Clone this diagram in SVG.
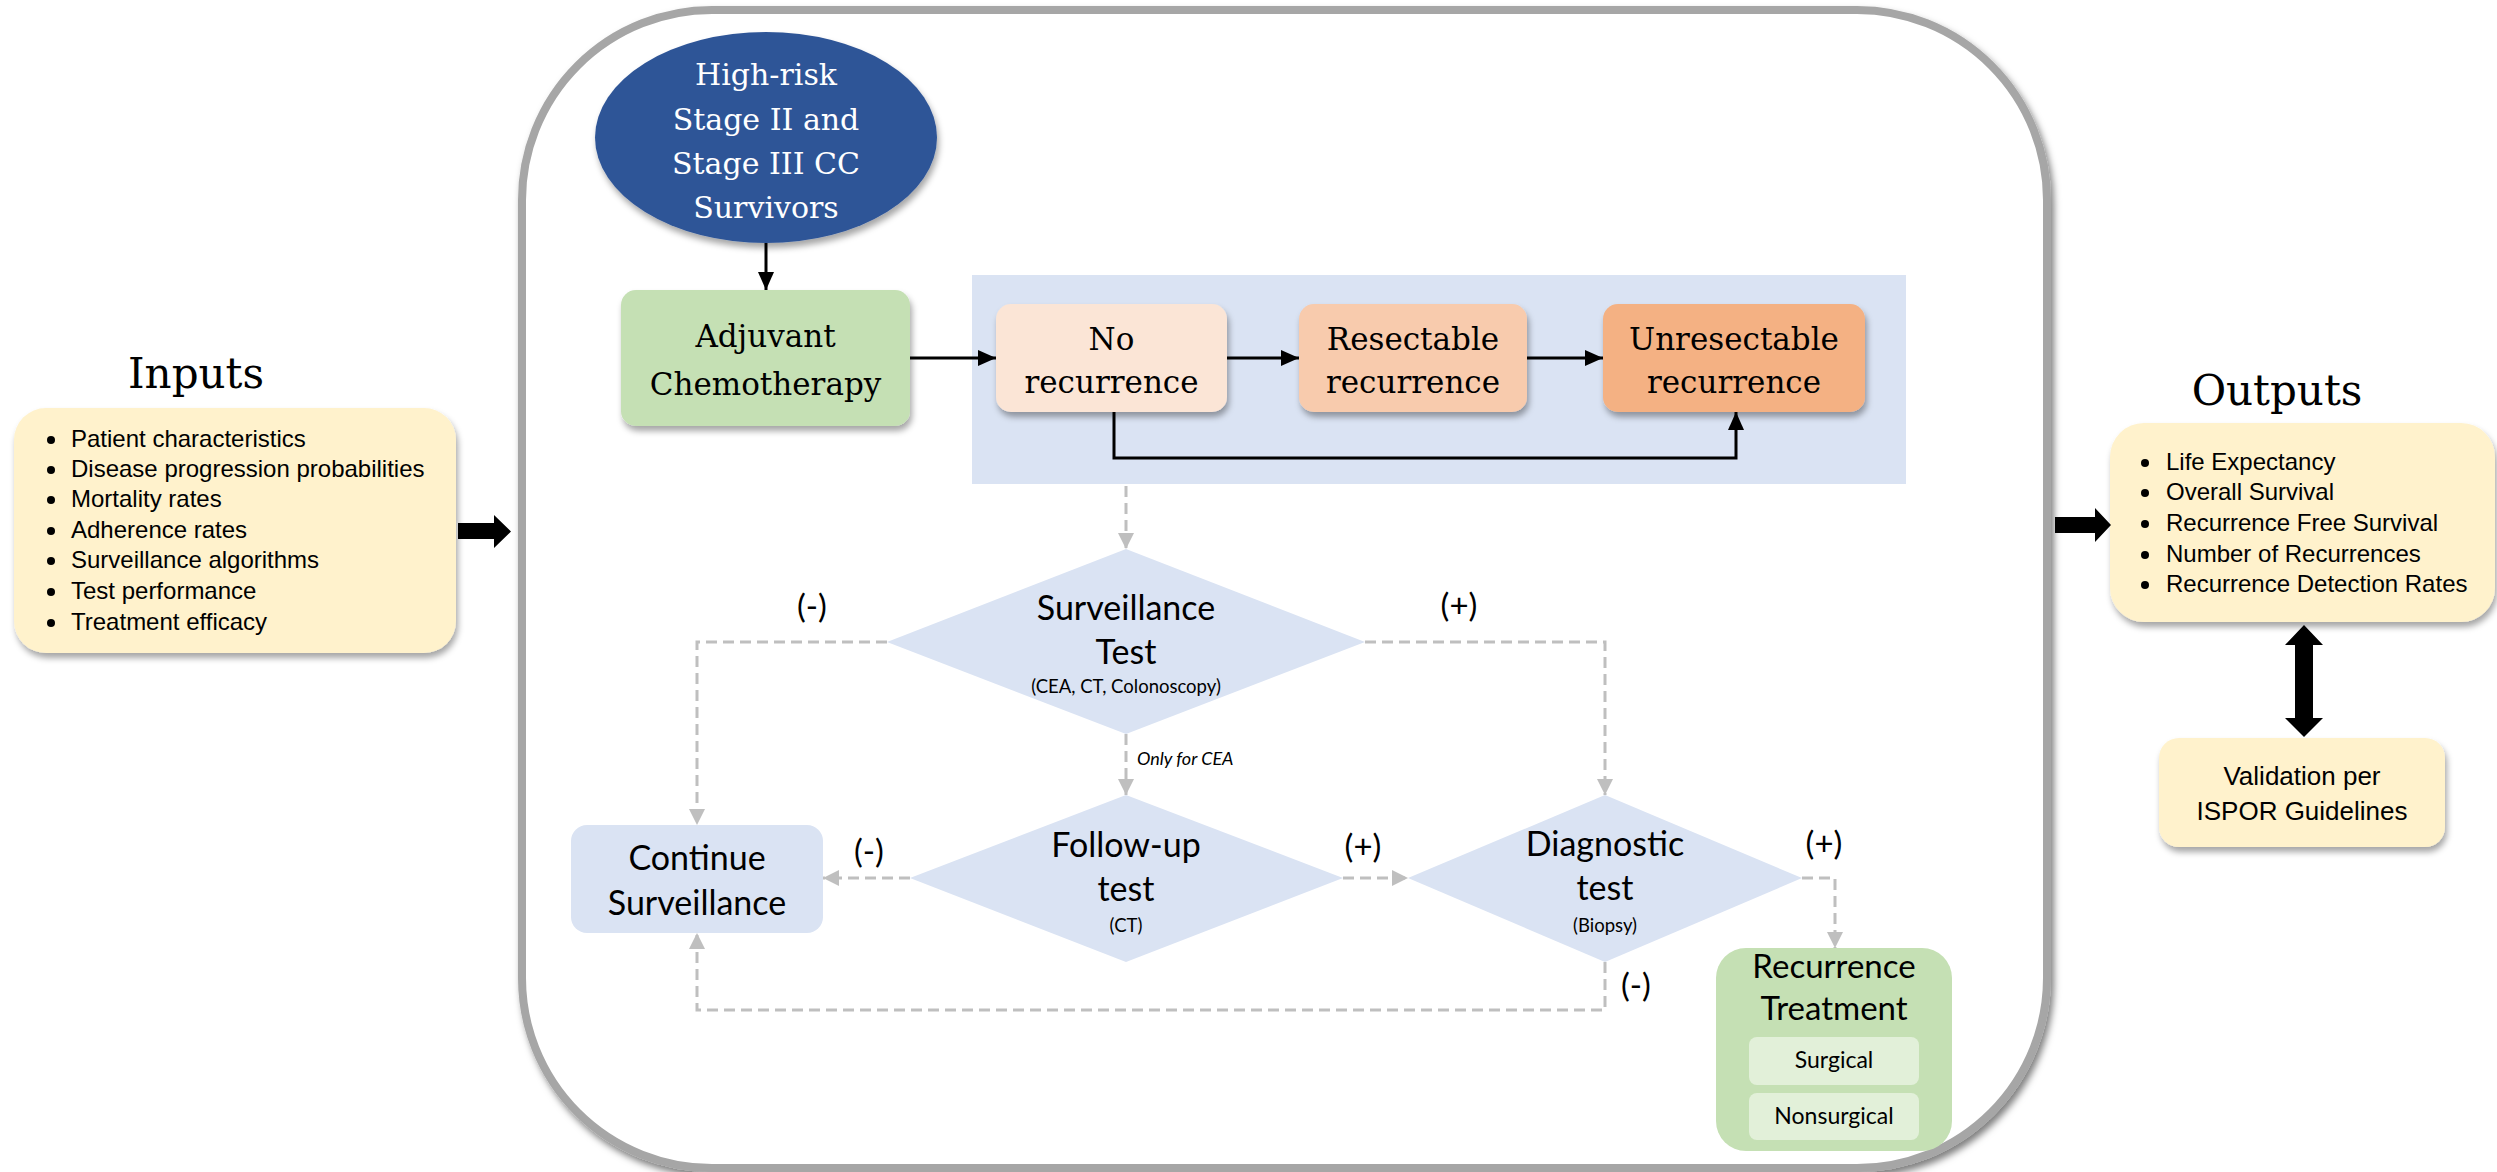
<svg xmlns="http://www.w3.org/2000/svg" width="2497" height="1172" viewBox="0 0 2497 1172">
<defs>
<filter id="sh" x="-10%" y="-10%" width="130%" height="140%">
<feDropShadow dx="2" dy="5" stdDeviation="3" flood-color="#000" flood-opacity="0.35"/>
</filter>
<filter id="csh" x="-5%" y="-5%" width="110%" height="110%">
<feDropShadow dx="3" dy="5" stdDeviation="3.5" flood-color="#000" flood-opacity="0.5"/>
</filter>
<marker id="ab" markerUnits="userSpaceOnUse" markerWidth="18" markerHeight="16" refX="18" refY="8" orient="auto">
<path d="M0,0 L18,8 L0,16 z" fill="#000"/>
</marker>
<marker id="ag" markerUnits="userSpaceOnUse" markerWidth="16" markerHeight="16" refX="16" refY="8" orient="auto">
<path d="M0,0 L16,8 L0,16 z" fill="#BFBFBF"/>
</marker>
<style>
.serif{font-family:"DejaVu Serif","Liberation Serif",serif;text-anchor:middle;fill:#000}
.cal{font-family:Lato,"Open Sans","Liberation Sans",sans-serif;text-anchor:middle;fill:#000}
.ar{font-family:"Liberation Sans",Arial,sans-serif;fill:#000}
.solid{fill:none;stroke:#000;stroke-width:3;marker-end:url(#ab)}
.dash{fill:none;stroke:#BFBFBF;stroke-width:3;stroke-dasharray:11 6;marker-end:url(#ag)}
.dia{fill:#DAE3F3}
</style>
</defs>
<rect width="2497" height="1172" fill="#fff"/>

<g id="container">
<rect x="522" y="10" width="1525" height="1158" rx="190" ry="190" fill="#fff" stroke="#A6A6A6" stroke-width="8" filter="url(#csh)"/>
</g>

<g id="inputs">
<text class="serif" x="196" y="388" font-size="42">Inputs</text>
<rect x="14" y="408" width="442" height="245" rx="32" fill="#FFF2CC" filter="url(#sh)"/>
<g class="ar" font-size="24">
<text x="71" y="447">Patient characteristics</text>
<text x="71" y="477">Disease progression probabilities</text>
<text x="71" y="507">Mortality rates</text>
<text x="71" y="538">Adherence rates</text>
<text x="71" y="568">Surveillance algorithms</text>
<text x="71" y="599">Test performance</text>
<text x="71" y="630">Treatment efficacy</text>
</g>
<g fill="#000">
<circle cx="51" cy="440" r="4"/><circle cx="51" cy="470" r="4"/><circle cx="51" cy="500" r="4"/><circle cx="51" cy="531" r="4"/><circle cx="51" cy="561" r="4"/><circle cx="51" cy="592" r="4"/><circle cx="51" cy="623" r="4"/>
</g>
<polygon points="458,523 494,523 494,515 511,531.5 494,548 494,539 458,539" fill="#000"/>
</g>

<g id="outputs">
<text class="serif" x="2277" y="405" font-size="42">Outputs</text>
<rect x="2110" y="423" width="385" height="199" rx="34" fill="#FFF2CC" filter="url(#sh)"/>
<g class="ar" font-size="24">
<text x="2166" y="470">Life Expectancy</text>
<text x="2166" y="500">Overall Survival</text>
<text x="2166" y="531">Recurrence Free Survival</text>
<text x="2166" y="562">Number of Recurrences</text>
<text x="2166" y="592">Recurrence Detection Rates</text>
</g>
<g fill="#000">
<circle cx="2145" cy="463" r="4"/><circle cx="2145" cy="493" r="4"/><circle cx="2145" cy="524" r="4"/><circle cx="2145" cy="555" r="4"/><circle cx="2145" cy="585" r="4"/>
</g>
<polygon points="2055,517 2095,517 2095,508 2111,525 2095,542 2095,533 2055,533" fill="#000"/>
<polygon points="2304,625 2323,645 2313,645 2313,718 2323,718 2304,737 2285,718 2295,718 2295,645 2285,645" fill="#000"/>
</g>

<g id="validation">
<rect x="2159" y="738" width="286" height="109" rx="20" fill="#FFF2CC" filter="url(#sh)"/>
<text class="ar" x="2302" y="785" font-size="26" text-anchor="middle">Validation per</text>
<text class="ar" x="2302" y="820" font-size="26" text-anchor="middle">ISPOR Guidelines</text>
</g>

<g id="states-bg">
<rect x="972" y="275" width="934" height="209" fill="#DAE3F3"/>
</g>

<g id="survivors">
<ellipse cx="766" cy="137.5" rx="171" ry="105.5" fill="#2F5597" filter="url(#sh)"/>
<g class="serif" font-size="30">
<text x="766" y="85" style="fill:#fff">High-risk</text>
<text x="766" y="130" style="fill:#fff">Stage II and</text>
<text x="766" y="174" style="fill:#fff">Stage III CC</text>
<text x="766" y="218" style="fill:#fff">Survivors</text>
</g>
</g>

<g id="adjuvant">
<rect x="621" y="290" width="289" height="136" rx="15" fill="#C5E0B4" filter="url(#sh)"/>
<text class="serif" x="765.5" y="347" font-size="31">Adjuvant</text>
<text class="serif" x="765.5" y="395" font-size="31">Chemotherapy</text>
</g>

<g id="no-recurrence">
<rect x="996" y="304" width="231" height="108" rx="15" fill="#FBE5D6" filter="url(#sh)"/>
<text class="serif" x="1111.5" y="350" font-size="31">No</text>
<text class="serif" x="1111.5" y="393" font-size="31">recurrence</text>
</g>

<g id="resectable">
<rect x="1299" y="304" width="228" height="108" rx="15" fill="#F8CBAD" filter="url(#sh)"/>
<text class="serif" x="1413" y="350" font-size="31">Resectable</text>
<text class="serif" x="1413" y="393" font-size="31">recurrence</text>
</g>

<g id="unresectable">
<rect x="1603" y="304" width="262" height="108" rx="15" fill="#F4B183" filter="url(#sh)"/>
<text class="serif" x="1734" y="350" font-size="31">Unresectable</text>
<text class="serif" x="1734" y="393" font-size="31">recurrence</text>
</g>

<g id="surveillance-test">
<polygon class="dia" points="1126,549 1365,642 1126,734 887,642"/>
<text class="cal" x="1126" y="620" font-size="34">Surveillance</text>
<text class="cal" x="1126" y="664" font-size="34">Test</text>
<text class="cal" x="1126" y="693" font-size="18.5">(CEA, CT, Colonoscopy)</text>
</g>

<g id="follow-up-test">
<polygon class="dia" points="1126,795 1343,878 1126,962 910,878"/>
<text class="cal" x="1126" y="857" font-size="34">Follow-up</text>
<text class="cal" x="1126" y="901" font-size="34">test</text>
<text class="cal" x="1126" y="932" font-size="18.5">(CT)</text>
</g>

<g id="diagnostic-test">
<polygon class="dia" points="1605,795 1802,878 1605,962 1408,878"/>
<text class="cal" x="1605" y="856" font-size="34">Diagnostic</text>
<text class="cal" x="1605" y="900" font-size="34">test</text>
<text class="cal" x="1605" y="932" font-size="18.5">(Biopsy)</text>
</g>

<g id="continue-surveillance">
<rect x="571" y="825" width="252" height="108" rx="16" fill="#DAE3F3"/>
<text class="cal" x="697" y="870" font-size="34">Continue</text>
<text class="cal" x="697" y="915" font-size="34">Surveillance</text>
</g>

<g id="recurrence-treatment">
<rect x="1716" y="948" width="236" height="203" rx="30" fill="#C5E0B4"/>
<text class="cal" x="1834" y="978" font-size="33">Recurrence</text>
<text class="cal" x="1834" y="1020" font-size="33">Treatment</text>
<rect x="1749" y="1037" width="170" height="48" rx="8" fill="#E2F0D9"/>
<text class="cal" x="1834" y="1068" font-size="23">Surgical</text>
<rect x="1749" y="1093" width="170" height="47" rx="8" fill="#E2F0D9"/>
<text class="cal" x="1834" y="1124" font-size="23">Nonsurgical</text>
</g>

<g id="connectors">
<path class="solid" d="M766,243 L766,290"/>
<path class="solid" d="M910,358 L996,358"/>
<path class="solid" d="M1227,358 L1299,358"/>
<path class="solid" d="M1527,358 L1603,358"/>
<path class="solid" d="M1114,412 L1114,458 L1736,458 L1736,412"/>
<path class="dash" d="M1126,486 L1126,549"/>
<path class="dash" d="M887,642 L697,642 L697,825"/>
<path class="dash" d="M1365,642 L1605,642 L1605,795"/>
<path class="dash" d="M1126,734 L1126,795"/>
<path class="dash" d="M910,878 L823,878"/>
<path class="dash" d="M1343,878 L1408,878"/>
<path class="dash" d="M1802,878 L1835,878 L1835,948"/>
<path class="dash" d="M1605,962 L1605,1010 L697,1010 L697,933"/>
<g class="cal" font-size="33">
<text x="812" y="618">(-)</text>
<text x="1459" y="617">(+)</text>
<text x="869" y="863">(-)</text>
<text x="1363" y="858">(+)</text>
<text x="1824" y="855">(+)</text>
<text x="1636" y="997">(-)</text>
</g>
<text class="cal" x="1137" y="765" font-size="18" font-style="italic" style="text-anchor:start">Only for CEA</text>
</g>
</svg>
